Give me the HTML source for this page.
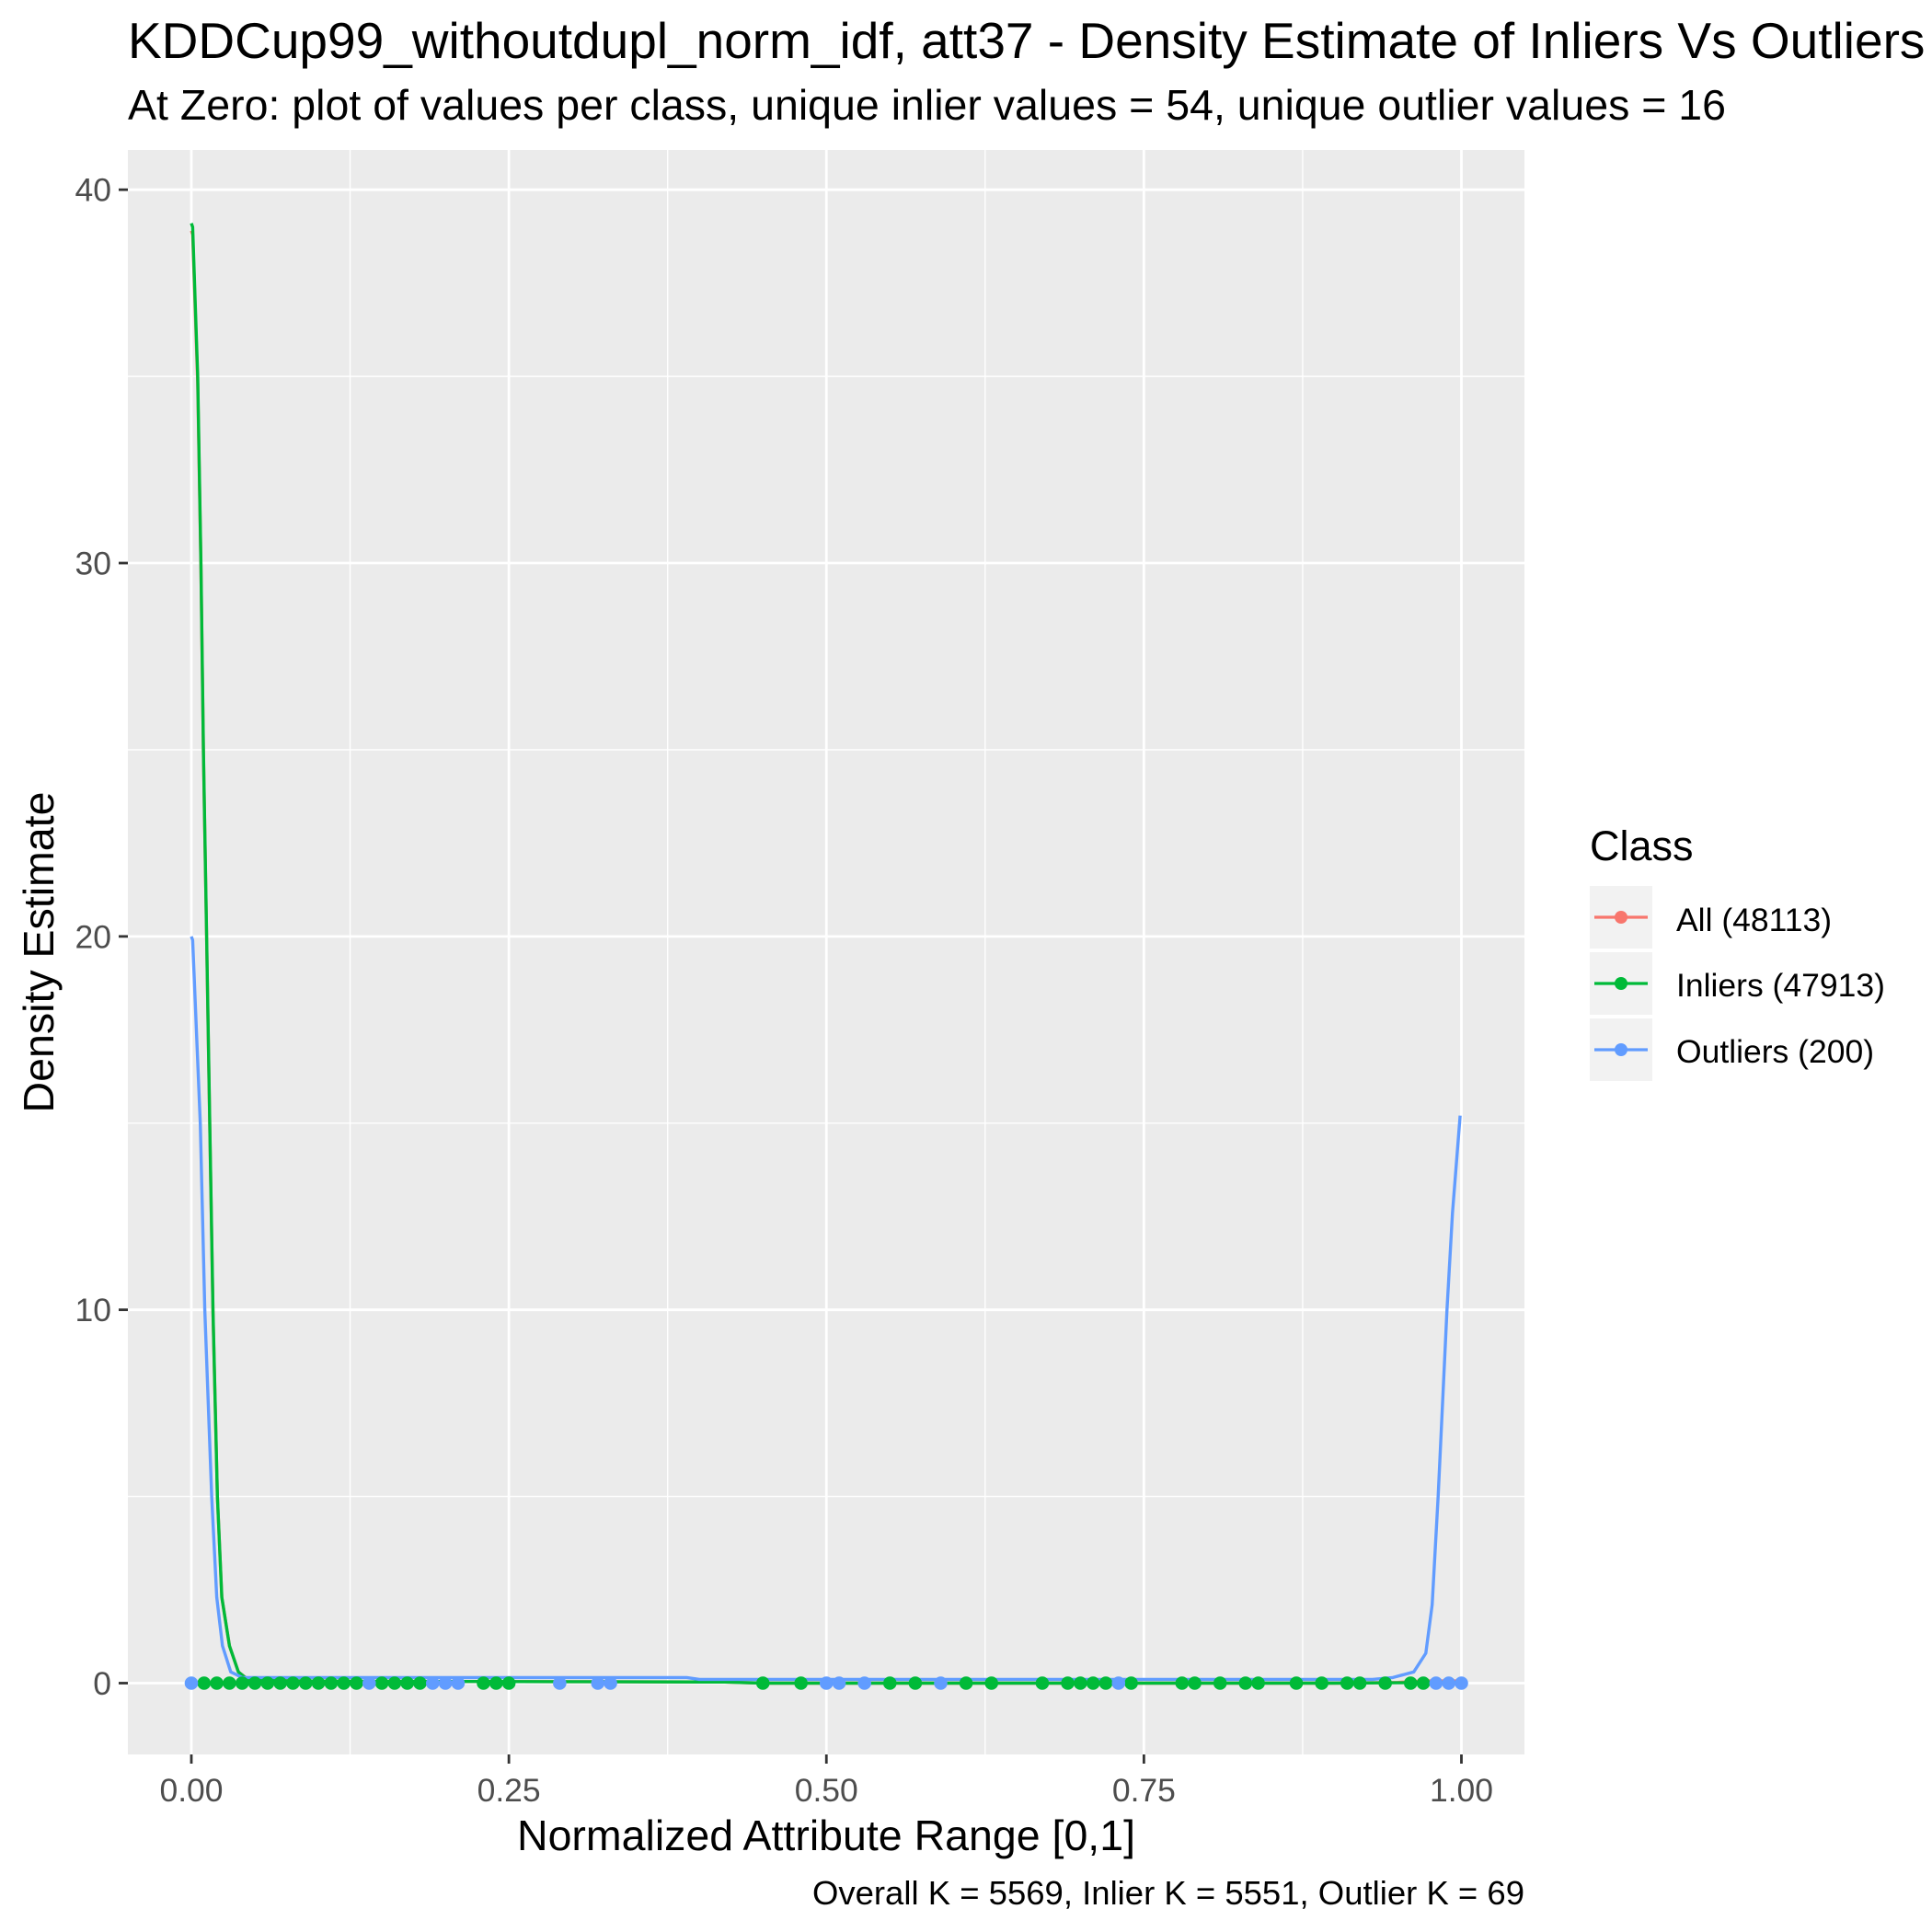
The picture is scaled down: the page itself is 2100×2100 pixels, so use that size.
<!DOCTYPE html>
<html><head><meta charset="utf-8"><style>
html,body{margin:0;padding:0;background:#fff;}
svg{display:block;font-family:"Liberation Sans",Arial,sans-serif;}
</style></head><body>
<svg id="chart" width="2100" height="2100" viewBox="0 0 2100 2100" xmlns="http://www.w3.org/2000/svg">
<text x="139" y="63" font-size="55" fill="#000">KDDCup99_withoutdupl_norm_idf, att37 - Density Estimate of Inliers Vs Outliers</text>
<text x="139" y="130" font-size="46.5" fill="#000">At Zero: plot of values per class, unique inlier values = 54, unique outlier values = 16</text>
<rect x="139" y="163" width="1518" height="1744" fill="#EBEBEB"/>
<g id="grid"></g>
<g id="curves"></g>
<g id="dots"></g>
<g id="axes"></g>
<text x="898" y="2011" font-size="46.5" text-anchor="middle" fill="#000">Normalized Attribute Range [0,1]</text>
<text transform="translate(58,1035) rotate(-90)" font-size="46.5" text-anchor="middle" fill="#000">Density Estimate</text>
<text x="1657" y="2070" font-size="36.5" text-anchor="end" fill="#000">Overall K = 5569, Inlier K = 5551, Outlier K = 69</text>
<g>
<text x="1728" y="935" font-size="45" fill="#000">Class</text>
<g>
<rect x="1728" y="963" width="68" height="68" fill="#F2F2F2"/>
<line x1="1733" y1="997" x2="1791" y2="997" stroke="#F8766D" stroke-width="3.3"/>
<circle cx="1762" cy="997" r="7" fill="#F8766D"/>
<text x="1822" y="1012" font-size="35.5" fill="#000">All (48113)</text></g>
<g>
<rect x="1728" y="1035" width="68" height="68" fill="#F2F2F2"/>
<line x1="1733" y1="1069" x2="1791" y2="1069" stroke="#00BA38" stroke-width="3.3"/>
<circle cx="1762" cy="1069" r="7" fill="#00BA38"/>
<text x="1822" y="1083" font-size="35.5" fill="#000">Inliers (47913)</text></g>
<g>
<rect x="1728" y="1107" width="68" height="68" fill="#F2F2F2"/>
<line x1="1733" y1="1141" x2="1791" y2="1141" stroke="#619CFF" stroke-width="3.3"/>
<circle cx="1762" cy="1141" r="7" fill="#619CFF"/>
<text x="1822" y="1155" font-size="35.5" fill="#000">Outliers (200)</text></g>
</g>
</svg>
<script>
const xTicks=[0,0.25,0.5,0.75,1];
const xTickLabels=["0.00","0.25","0.50","0.75","1.00"];
const yTicks=[0,10,20,30,40];
const yTickLabels=["0","10","20","30","40"];
const inlierX=[0,0.001,0.005,0.0075,0.0095,0.012,0.0145,0.017,0.0205,0.024,0.03,0.037,0.045,0.1,0.3,0.42,0.45,0.9,0.95,0.97,1];
const inlierY=[39.1,39,35,30,25,20,15,10,5,2.3,1,0.3,0.08,0.05,0.04,0.03,0.0,0.0,0.01,0.02,0.02];
const allX=inlierX;
const allY=[38.9,38.8,34.8,29.9,24.9,19.9,14.9,9.9,5,2.3,1,0.3,0.09,0.05,0.04,0.03,0.0,0.0,0.02,0.06,0.06];
const outlierX=[0,0.001,0.007,0.0106,0.016,0.02,0.0245,0.031,0.04,0.39,0.4,0.93,0.946,0.9625,0.972,0.977,0.9817,0.9886,0.993,0.999];
const outlierY=[20,19.9,15,10,5,2.3,1,0.3,0.15,0.15,0.1,0.1,0.15,0.3,0.8,2.1,5,10,12.6,15.2];
const inlierPts=[0.01,0.02,0.03,0.04,0.05,0.06,0.07,0.08,0.09,0.1,0.11,0.12,0.13,0.15,0.16,0.17,0.18,0.23,0.24,0.25,0.45,0.48,0.55,0.57,0.61,0.63,0.67,0.69,0.7,0.71,0.72,0.74,0.78,0.79,0.81,0.83,0.84,0.87,0.89,0.91,0.92,0.94,0.96,0.97];
const outlierPts=[0,0.14,0.19,0.2,0.21,0.29,0.32,0.33,0.5,0.51,0.53,0.59,0.73,0.98,0.99,1];

const NS="http://www.w3.org/2000/svg";
const X0=208,X1=1588.5,Y0=1829.5,Y40=206.2;
const L=139,R=1657,T=163,B=1907;
function sx(v){return X0+(X1-X0)*v;}
function sy(v){return Y0+(Y40-Y0)*v/40;}
function mk(tag,attrs,parent){const e=document.createElementNS(NS,tag);for(const k in attrs)e.setAttribute(k,attrs[k]);parent.appendChild(e);return e;}
const grid=document.getElementById('grid');
for(let i=0;i<xTicks.length-1;i++){const v=(xTicks[i]+xTicks[i+1])/2;
 const l=mk('line',{x1:sx(v),x2:sx(v),y1:T,y2:B,stroke:'#fff','stroke-width':1.4},grid);
 
 }
for(let i=0;i<yTicks.length-1;i++){const v=(yTicks[i]+yTicks[i+1])/2;
 const l=mk('line',{x1:L,x2:R,y1:sy(v),y2:sy(v),stroke:'#fff','stroke-width':1.4},grid);
 
 }
const axes=document.getElementById('axes');
xTicks.forEach((v,i)=>{
 const l=mk('line',{x1:sx(v),x2:sx(v),y1:T,y2:B,stroke:'#fff','stroke-width':2.8},grid);
 
 
 const t=mk('line',{x1:sx(v),x2:sx(v),y1:B,y2:B+10,stroke:'#333','stroke-width':2.8},axes);
 
 
 const tx=mk('text',{x:sx(v),y:1958,'font-size':35.5,'text-anchor':'middle',fill:'#4D4D4D'},axes);
 tx.textContent=xTickLabels[i];
 
 });
yTicks.forEach((v,i)=>{
 const l=mk('line',{x1:L,x2:R,y1:sy(v),y2:sy(v),stroke:'#fff','stroke-width':2.8},grid);
 
 
 const t=mk('line',{x1:L-10,x2:L,y1:sy(v),y2:sy(v),stroke:'#333','stroke-width':2.8},axes);
 
 
 const tx=mk('text',{x:121,y:sy(v)+12.5,'font-size':35.5,'text-anchor':'end',fill:'#4D4D4D'},axes);
 tx.textContent=yTickLabels[i];
 
 });
const curves=document.getElementById('curves');
function path(xs,ys,color,name){
 const d=xs.map((x,i)=>(i?'L':'M')+sx(x).toFixed(1)+','+sy(ys[i]).toFixed(1)).join(' ');
 const p=mk('path',{d:d,fill:'none',stroke:color,'stroke-width':3.4,'stroke-linejoin':'round'},curves);
 
 }
path(allX,allY,'#F8766D','all-density-line');
path(inlierX,inlierY,'#00BA38','inlier-density-line');
path(outlierX,outlierY,'#619CFF','outlier-density-line');
const dots=document.getElementById('dots');
inlierPts.forEach(v=>{const c=mk('circle',{cx:sx(v),cy:sy(0),r:7.3,fill:'#00BA38'},dots);
 
 });
outlierPts.forEach(v=>{const c=mk('circle',{cx:sx(v),cy:sy(0),r:7.3,fill:'#619CFF'},dots);
 
 });
</script>
</body></html>
